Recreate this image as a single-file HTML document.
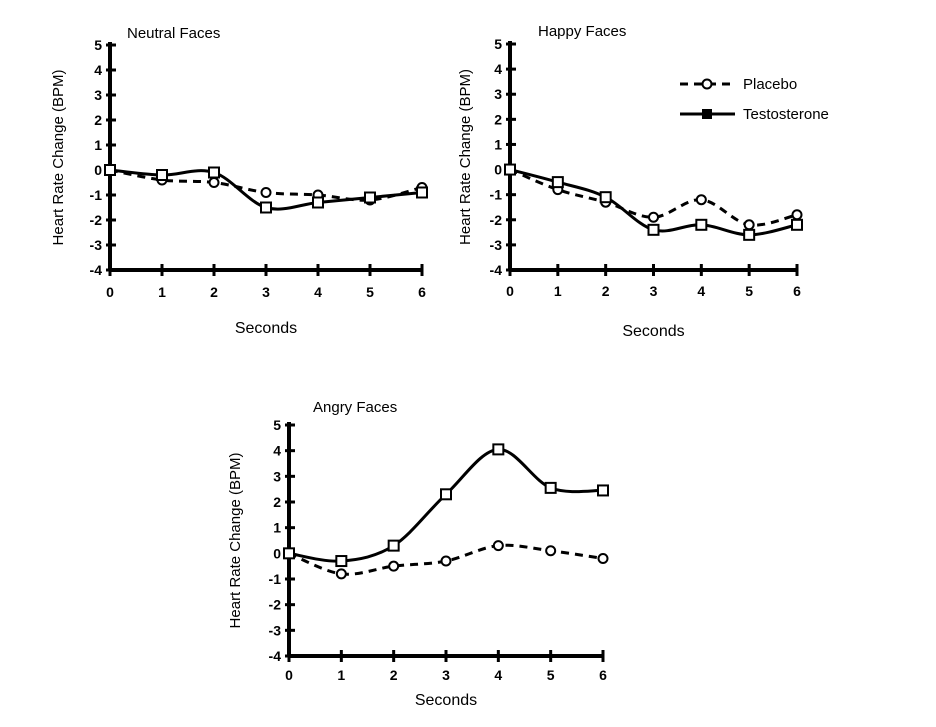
<!DOCTYPE html>
<html><head><style>
body{margin:0;background:#fff;width:936px;height:722px;overflow:hidden}
svg text{font-family:"Liberation Sans",sans-serif}
</style></head><body>
<svg id="s" width="936" height="722" xmlns="http://www.w3.org/2000/svg">
<g id="g"></g>
<line x1="680" y1="84" x2="735" y2="84" stroke="#000" stroke-width="3" stroke-dasharray="8,6"/>
<circle cx="707" cy="84" r="4.5" fill="#fff" stroke="#000" stroke-width="2"/>
<text x="743" y="89" font-size="15">Placebo</text>
<line x1="680" y1="114" x2="735" y2="114" stroke="#000" stroke-width="3"/>
<rect x="702" y="109" width="10" height="10" fill="#000"/>
<text x="743" y="119" font-size="15">Testosterone</text>
</svg>
<script>
var g=document.getElementById('g'),h='';
function chart(x0,y5,ym4,x6,title,tx,ty,P,T,seclY,ylabX,lo){
 var dy=(ym4-y5)/9,dx=(x6-x0)/6;
 function X(i){return x0+i*dx}function Y(v){return y5+(5-v)*dy}
 h+='<text x="'+tx+'" y="'+ty+'" font-size="15">'+title+'</text>';
 h+='<line x1="'+x0+'" y1="'+(y5-3)+'" x2="'+x0+'" y2="'+ym4+'" stroke="#000" stroke-width="4"/>';
 h+='<line x1="'+x0+'" y1="'+ym4+'" x2="'+x6+'" y2="'+ym4+'" stroke="#000" stroke-width="4"/>';
 for(var v=5;v>=-4;v--){var y=Y(v);h+='<line x1="'+(x0-4)+'" y1="'+y+'" x2="'+(x0+6)+'" y2="'+y+'" stroke="#000" stroke-width="3"/>';
  h+='<text x="'+(x0-8)+'" y="'+(y+5)+'" font-size="14" font-weight="bold" text-anchor="end">'+v+'</text>';}
 for(var i=0;i<=6;i++){var x=X(i);h+='<line x1="'+x+'" y1="'+(ym4-6)+'" x2="'+x+'" y2="'+(ym4+6)+'" stroke="#000" stroke-width="3"/>';
  h+='<text x="'+x+'" y="'+(ym4+lo)+'" font-size="14" font-weight="bold" text-anchor="middle">'+i+'</text>';}
 h+='<text x="'+((x0+x6)/2)+'" y="'+seclY+'" font-size="16" text-anchor="middle">Seconds</text>';
 var cy=(y5+ym4)/2;
 h+='<text transform="translate('+ylabX+','+cy+') rotate(-90)" font-size="15" text-anchor="middle">Heart Rate Change (BPM)</text>';
 function path(D){var p=D.map(function(v,i){return[X(i),Y(v)]});var d='M'+p[0];
  for(var i=0;i<p.length-1;i++){var a=p[i-1]||p[i],b=p[i],c=p[i+1],e=p[i+2]||c;
   d+=' C'+(b[0]+(c[0]-a[0])/6)+','+(b[1]+(c[1]-a[1])/6)+' '+(c[0]-(e[0]-b[0])/6)+','+(c[1]-(e[1]-b[1])/6)+' '+c;}return d}
 h+='<path d="'+path(P)+'" fill="none" stroke="#000" stroke-width="3" stroke-dasharray="8,6"/>';
 h+='<path d="'+path(T)+'" fill="none" stroke="#000" stroke-width="3"/>';
 P.forEach(function(v,i){h+='<circle cx="'+X(i)+'" cy="'+Y(v)+'" r="4.5" fill="#fff" stroke="#000" stroke-width="2"/>'});
 T.forEach(function(v,i){h+='<rect x="'+(X(i)-5)+'" y="'+(Y(v)-5)+'" width="10" height="10" fill="#fff" stroke="#000" stroke-width="2"/>'});
}
chart(110,45,270,422,'Neutral Faces',127,38,[0,-0.4,-0.5,-0.9,-1.0,-1.2,-0.7],[0,-0.2,-0.1,-1.5,-1.3,-1.1,-0.9],333,63,27);
chart(510,44,270,797,'Happy Faces',538,36,[0,-0.8,-1.3,-1.9,-1.2,-2.2,-1.8],[0,-0.5,-1.1,-2.4,-2.2,-2.6,-2.2],336,470,26);
chart(289,425,656,603,'Angry Faces',313,412,[0,-0.8,-0.5,-0.3,0.3,0.1,-0.2],[0,-0.3,0.3,2.3,4.05,2.55,2.45],705,240,24);
g.innerHTML=h;
</script>
</body></html>
